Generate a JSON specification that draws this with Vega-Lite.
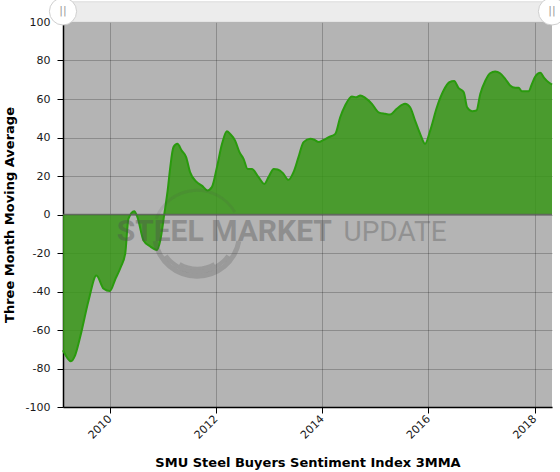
{
  "$schema": "https://vega.github.io/schema/vega-lite/v6.json",
  "width": 489,
  "height": 385,
  "autosize": {"type": "none"},
  "padding": {"left": 63, "top": 22, "right": 8, "bottom": 65},
  "background": "white",
  "config": {
    "view": {"fill": "#b4b4b4", "stroke": null},
    "axis": {
      "domainColor": "#000",
      "domainWidth": 1.5,
      "tickColor": "#000",
      "tickSize": 6,
      "labelFont": "DejaVu Sans",
      "labelFontSize": 11,
      "labelColor": "#1a1a1a",
      "titleFont": "DejaVu Sans",
      "titleFontSize": 13,
      "titleFontWeight": "bold",
      "titleColor": "#000",
      "gridColor": "#000",
      "gridOpacity": 0.22,
      "gridWidth": 1
    }
  },
  "data": {
    "values": [
      {"date": "2009-02-13", "value": -70.5},
      {"date": "2009-04-08", "value": -76.2},
      {"date": "2009-05-08", "value": -73},
      {"date": "2009-06-11", "value": -63.7},
      {"date": "2009-08-08", "value": -44.7},
      {"date": "2009-10-01", "value": -31.7},
      {"date": "2009-11-20", "value": -38.6},
      {"date": "2010-01-01", "value": -39.8},
      {"date": "2010-02-09", "value": -33.4},
      {"date": "2010-03-17", "value": -27.4},
      {"date": "2010-04-17", "value": -20.3},
      {"date": "2010-05-09", "value": -2.3},
      {"date": "2010-06-18", "value": 1.7},
      {"date": "2010-07-10", "value": -1.4},
      {"date": "2010-08-21", "value": -13.5},
      {"date": "2010-10-06", "value": -16.6},
      {"date": "2010-11-22", "value": -18.4},
      {"date": "2010-12-14", "value": -13.5},
      {"date": "2011-01-11", "value": 0.3},
      {"date": "2011-02-03", "value": 12.5},
      {"date": "2011-02-20", "value": 24},
      {"date": "2011-03-15", "value": 35},
      {"date": "2011-04-11", "value": 36.7},
      {"date": "2011-05-11", "value": 33.2},
      {"date": "2011-06-10", "value": 29.8},
      {"date": "2011-07-07", "value": 22},
      {"date": "2011-08-23", "value": 16.8},
      {"date": "2011-09-26", "value": 15},
      {"date": "2011-11-04", "value": 12.5},
      {"date": "2011-12-04", "value": 14.2},
      {"date": "2012-01-08", "value": 24.6},
      {"date": "2012-02-12", "value": 36.7},
      {"date": "2012-03-16", "value": 43.3},
      {"date": "2012-04-08", "value": 41.9},
      {"date": "2012-05-12", "value": 38.4},
      {"date": "2012-06-11", "value": 32.4},
      {"date": "2012-07-09", "value": 28.9},
      {"date": "2012-08-06", "value": 23.7},
      {"date": "2012-09-05", "value": 23.7},
      {"date": "2012-10-20", "value": 19.4},
      {"date": "2012-11-29", "value": 15.9},
      {"date": "2012-12-28", "value": 19.4},
      {"date": "2013-02-02", "value": 23.7},
      {"date": "2013-03-01", "value": 23.4},
      {"date": "2013-04-06", "value": 21.5},
      {"date": "2013-05-14", "value": 18},
      {"date": "2013-06-18", "value": 22},
      {"date": "2013-07-22", "value": 29.8},
      {"date": "2013-08-26", "value": 37.6},
      {"date": "2013-10-11", "value": 39.3},
      {"date": "2013-11-08", "value": 38.8},
      {"date": "2013-12-08", "value": 37.6},
      {"date": "2014-01-12", "value": 38.8},
      {"date": "2014-02-15", "value": 40.2},
      {"date": "2014-04-01", "value": 41.9},
      {"date": "2014-05-05", "value": 50.5},
      {"date": "2014-06-08", "value": 56.6},
      {"date": "2014-07-24", "value": 61.3},
      {"date": "2014-08-23", "value": 60.9},
      {"date": "2014-09-20", "value": 61.8},
      {"date": "2014-10-24", "value": 60.6},
      {"date": "2014-12-09", "value": 57.5},
      {"date": "2015-01-24", "value": 53.1},
      {"date": "2015-03-09", "value": 52.3},
      {"date": "2015-04-13", "value": 51.9},
      {"date": "2015-05-29", "value": 54.9},
      {"date": "2015-07-25", "value": 57.5},
      {"date": "2015-08-29", "value": 55.7},
      {"date": "2015-10-02", "value": 48.8},
      {"date": "2015-11-06", "value": 41.9},
      {"date": "2015-12-10", "value": 36.7},
      {"date": "2016-01-14", "value": 43.6},
      {"date": "2016-02-29", "value": 55.7},
      {"date": "2016-04-15", "value": 64.4},
      {"date": "2016-05-25", "value": 68.7},
      {"date": "2016-06-27", "value": 69.3},
      {"date": "2016-07-26", "value": 65.8},
      {"date": "2016-09-01", "value": 63.5},
      {"date": "2016-09-24", "value": 55.7},
      {"date": "2016-10-28", "value": 53.7},
      {"date": "2016-11-27", "value": 54},
      {"date": "2016-12-24", "value": 62.7},
      {"date": "2017-01-28", "value": 69.6},
      {"date": "2017-03-01", "value": 73.4},
      {"date": "2017-04-05", "value": 74.3},
      {"date": "2017-05-09", "value": 73.4},
      {"date": "2017-06-13", "value": 70.5},
      {"date": "2017-07-17", "value": 67},
      {"date": "2017-08-21", "value": 65.8},
      {"date": "2017-09-13", "value": 65.8},
      {"date": "2017-10-06", "value": 64},
      {"date": "2017-11-21", "value": 64},
      {"date": "2017-12-14", "value": 67.9},
      {"date": "2018-01-06", "value": 71.7},
      {"date": "2018-02-10", "value": 73.6},
      {"date": "2018-03-08", "value": 71},
      {"date": "2018-04-07", "value": 68.7},
      {"date": "2018-05-01", "value": 67.5}
    ]
  },
  "layer": [
    {
      "mark": {"type": "area", "interpolate": "monotone", "color": "#379616", "opacity": 0.85},
      "encoding": {
        "x": {
          "field": "date",
          "type": "temporal",
          "title": "SMU Steel Buyers Sentiment Index 3MMA",
          "scale": {
            "domain": [{"year": 2009, "month": 2, "date": 13}, {"year": 2018, "month": 5, "date": 1}],
            "nice": false
          },
          "axis": {"format": "%Y", "tickCount": {"interval": "year", "step": 2}, "labelAngle": -45, "labelAlign": "right", "labelBaseline": "middle", "labelPadding": 4, "titlePadding": 16}
        },
        "y": {
          "field": "value",
          "type": "quantitative",
          "title": "Three Month Moving Average",
          "scale": {"domain": [-100, 100], "nice": false},
          "axis": {"values": [-100, -80, -60, -40, -20, 0, 20, 40, 60, 80, 100], "labelExpr": "'' + datum.value", "labelOverlap": false, "labelPadding": 7, "titlePadding": 9}
        }
      }
    },
    {
      "mark": {"type": "line", "interpolate": "monotone", "color": "#2a9a0e", "strokeWidth": 2},
      "encoding": {
        "x": {"field": "date", "type": "temporal", "title": "SMU Steel Buyers Sentiment Index 3MMA",
          "axis": {"format": "%Y", "tickCount": {"interval": "year", "step": 2}, "labelAngle": -45, "labelAlign": "right", "labelBaseline": "middle", "labelPadding": 4, "titlePadding": 16}},
        "y": {"field": "value", "type": "quantitative", "title": "Three Month Moving Average",
          "axis": {"values": [-100, -80, -60, -40, -20, 0, 20, 40, 60, 80, 100], "labelExpr": "'' + datum.value", "labelOverlap": false, "labelPadding": 7, "titlePadding": 9}}
      }
    },
    {
      "data": {"values": [{}]},
      "mark": {"type": "rule", "color": "#5a5a5a", "strokeWidth": 1.5, "opacity": 0.8},
      "encoding": {
        "y": {"datum": 0, "type": "quantitative", "title": "Three Month Moving Average",
          "axis": {"values": [-100, -80, -60, -40, -20, 0, 20, 40, 60, 80, 100], "labelExpr": "'' + datum.value", "labelOverlap": false, "labelPadding": 7, "titlePadding": 9}}
      }
    },
    {
      "data": {"values": [{}]},
      "encoding": {
        "x": {"datum": {"year": 2011, "month": 8, "date": 24}, "type": "temporal", "title": "SMU Steel Buyers Sentiment Index 3MMA",
          "axis": {"format": "%Y", "tickCount": {"interval": "year", "step": 2}, "labelAngle": -45, "labelAlign": "right", "labelBaseline": "middle", "labelPadding": 4, "titlePadding": 16}},
        "y": {"datum": -10, "type": "quantitative", "title": "Three Month Moving Average",
          "axis": {"values": [-100, -80, -60, -40, -20, 0, 20, 40, 60, 80, 100], "labelExpr": "'' + datum.value", "labelOverlap": false, "labelPadding": 7, "titlePadding": 9}}
      },
      "layer": [
        {"mark": {"type": "arc", "theta": -1.22, "theta2": 1.05, "innerRadius": 42, "outerRadius": 45, "color": "#4d4d4d", "opacity": 0.12}},
        {"mark": {"type": "arc", "theta": 1.745, "theta2": 4.538, "innerRadius": 40, "outerRadius": 45, "color": "#4d4d4d", "opacity": 0.25}},
        {"mark": {"type": "arc", "theta": 2.182, "theta2": 4.102, "innerRadius": 36, "outerRadius": 40, "color": "#4d4d4d", "opacity": 0.25}},
        {"mark": {"type": "arc", "theta": 2.618, "theta2": 3.665, "innerRadius": 33, "outerRadius": 36, "color": "#4d4d4d", "opacity": 0.25}}
      ]
    },
    {
      "data": {"values": [{}]},
      "mark": {"type": "text", "text": "STEEL MARKET", "font": "Roboto", "fontWeight": "bold", "fontSize": 30, "align": "right", "baseline": "alphabetic", "color": "#4d4d4d", "opacity": 0.36},
      "encoding": {
        "x": {"datum": {"year": 2014, "month": 3, "date": 9}, "type": "temporal", "title": "SMU Steel Buyers Sentiment Index 3MMA",
          "axis": {"format": "%Y", "tickCount": {"interval": "year", "step": 2}, "labelAngle": -45, "labelAlign": "right", "labelBaseline": "middle", "labelPadding": 4, "titlePadding": 16}},
        "y": {"datum": -13.8, "type": "quantitative", "title": "Three Month Moving Average",
          "axis": {"values": [-100, -80, -60, -40, -20, 0, 20, 40, 60, 80, 100], "labelExpr": "'' + datum.value", "labelOverlap": false, "labelPadding": 7, "titlePadding": 9}}
      }
    },
    {
      "data": {"values": [{}]},
      "mark": {"type": "text", "text": "UPDATE", "font": "Roboto", "fontWeight": "normal", "fontSize": 28, "align": "left", "baseline": "alphabetic", "color": "#4d4d4d", "opacity": 0.33},
      "encoding": {
        "x": {"datum": {"year": 2014, "month": 5, "date": 28}, "type": "temporal", "title": "SMU Steel Buyers Sentiment Index 3MMA",
          "axis": {"format": "%Y", "tickCount": {"interval": "year", "step": 2}, "labelAngle": -45, "labelAlign": "right", "labelBaseline": "middle", "labelPadding": 4, "titlePadding": 16}},
        "y": {"datum": -13.8, "type": "quantitative", "title": "Three Month Moving Average",
          "axis": {"values": [-100, -80, -60, -40, -20, 0, 20, 40, 60, 80, 100], "labelExpr": "'' + datum.value", "labelOverlap": false, "labelPadding": 7, "titlePadding": 9}}
      }
    },
    {
      "data": {"values": [{}]},
      "mark": {"type": "rect", "color": "#ececec", "stroke": "#dcdcdc", "strokeWidth": 1},
      "encoding": {
        "x": {"datum": {"year": 2009, "month": 2, "date": 13}, "type": "temporal", "title": "SMU Steel Buyers Sentiment Index 3MMA",
          "axis": {"format": "%Y", "tickCount": {"interval": "year", "step": 2}, "labelAngle": -45, "labelAlign": "right", "labelBaseline": "middle", "labelPadding": 4, "titlePadding": 16}},
        "x2": {"datum": {"year": 2018, "month": 5, "date": 1}},
        "y": {"datum": 100, "type": "quantitative", "title": "Three Month Moving Average",
          "axis": {"values": [-100, -80, -60, -40, -20, 0, 20, 40, 60, 80, 100], "labelExpr": "'' + datum.value", "labelOverlap": false, "labelPadding": 7, "titlePadding": 9}},
        "y2": {"datum": 110.5}
      }
    },
    {
      "data": {"values": [{}]},
      "encoding": {
        "x": {"datum": {"year": 2009, "month": 2, "date": 13}, "type": "temporal", "title": "SMU Steel Buyers Sentiment Index 3MMA",
          "axis": {"format": "%Y", "tickCount": {"interval": "year", "step": 2}, "labelAngle": -45, "labelAlign": "right", "labelBaseline": "middle", "labelPadding": 4, "titlePadding": 16}},
        "y": {"datum": 105.5, "type": "quantitative", "title": "Three Month Moving Average",
          "axis": {"values": [-100, -80, -60, -40, -20, 0, 20, 40, 60, 80, 100], "labelExpr": "'' + datum.value", "labelOverlap": false, "labelPadding": 7, "titlePadding": 9}}
      },
      "layer": [
        {"mark": {"type": "point", "shape": "circle", "filled": true, "fill": "#ffffff", "stroke": "#cfcfcf", "strokeWidth": 1, "size": 740, "opacity": 1}},
        {"mark": {"type": "text", "text": "||", "font": "DejaVu Sans", "fontSize": 11, "color": "#999999", "align": "center", "baseline": "middle"}}
      ]
    },
    {
      "data": {"values": [{}]},
      "encoding": {
        "x": {"datum": {"year": 2018, "month": 5, "date": 1}, "type": "temporal", "title": "SMU Steel Buyers Sentiment Index 3MMA",
          "axis": {"format": "%Y", "tickCount": {"interval": "year", "step": 2}, "labelAngle": -45, "labelAlign": "right", "labelBaseline": "middle", "labelPadding": 4, "titlePadding": 16}},
        "y": {"datum": 105.5, "type": "quantitative", "title": "Three Month Moving Average",
          "axis": {"values": [-100, -80, -60, -40, -20, 0, 20, 40, 60, 80, 100], "labelExpr": "'' + datum.value", "labelOverlap": false, "labelPadding": 7, "titlePadding": 9}}
      },
      "layer": [
        {"mark": {"type": "point", "shape": "circle", "filled": true, "fill": "#ffffff", "stroke": "#cfcfcf", "strokeWidth": 1, "size": 740, "opacity": 1}},
        {"mark": {"type": "text", "text": "||", "font": "DejaVu Sans", "fontSize": 11, "color": "#999999", "align": "center", "baseline": "middle"}}
      ]
    }
  ]
}
